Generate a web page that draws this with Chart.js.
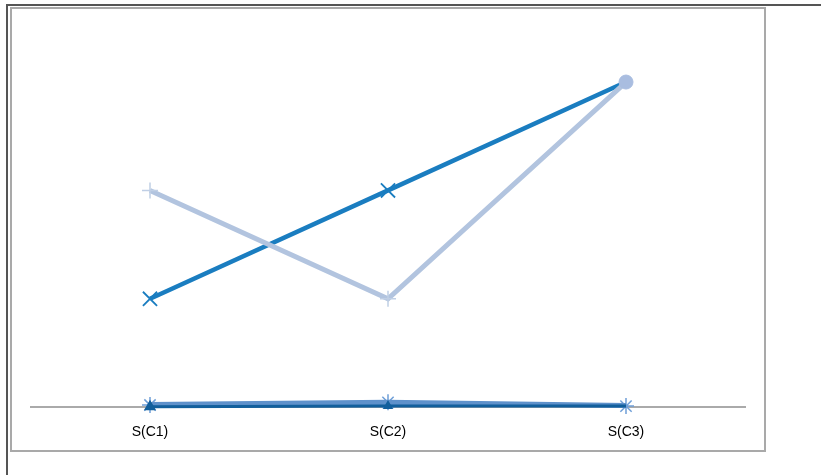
<!DOCTYPE html>
<html>
<head>
<meta charset="utf-8">
<script src="https://cdn.jsdelivr.net/npm/chart.js@4/dist/chart.umd.min.js"></script>
<style>
  html, body { margin: 0; padding: 0; background: #fff; }
  #wrap { position: relative; width: 821px; height: 475px; overflow: hidden; }
  #outerTop { position: absolute; left: 6px; top: 4px; width: 815px; height: 2px; background: #555; }
  #outerLeft { position: absolute; left: 6px; top: 4px; width: 2px; height: 471px; background: #555; }
  #frame { position: absolute; left: 10px; top: 7px; width: 752px; height: 441px; border: 2px solid #a9a9a9; }
  canvas { position: absolute; left: 0; top: 0; }
</style>
</head>
<body>
<div id="wrap">
  <div id="outerTop"></div>
  <div id="outerLeft"></div>
  <div id="frame"></div>
  <canvas id="c" width="821" height="475"></canvas>
</div>
<script>
const categories = ["S(C1)", "S(C2)", "S(C3)"];
const seriesA = [10, 20, 30];
const seriesB = [20, 10, 30];
const seriesLow1 = [0.05, 0.1, 0.1];
const seriesLow2 = [0.25, 0.45, 0.15];
const seriesLow3 = [0.2, 0.45, 0.1];

new Chart(document.getElementById('c'), {
  type: 'line',
  data: {
    labels: categories,
    datasets: [
      {
        data: seriesLow1,
        borderColor: '#125f9c',
        borderWidth: 3,
        pointStyle: ['triangle', 'triangle', false],
        pointRadius: [4, 3, 0],
        pointBackgroundColor: '#125f9c',
        pointBorderColor: '#125f9c',
        tension: 0,
        clip: false
      },
      {
        data: seriesLow2,
        borderColor: '#5e91cb',
        borderWidth: 5,
        pointRadius: 0,
        tension: 0,
        clip: false
      },
      {
        data: seriesLow3,
        borderColor: 'rgba(0,0,0,0)',
        borderWidth: 0,
        pointStyle: 'star',
        pointRadius: 8,
        pointBorderWidth: 1.5,
        pointBorderColor: '#6f9fd8',
        pointBackgroundColor: '#6f9fd8',
        showLine: false,
        clip: false
      },
      {
        data: seriesB,
        borderColor: '#b2c4df',
        borderWidth: 5,
        pointStyle: ['cross', 'cross', 'circle'],
        pointRadius: [8, 8, 7],
        pointBorderWidth: [1.5, 1.5, 1],
        pointBorderColor: ['#c0cfe5', '#c0cfe5', '#a9bde0'],
        pointBackgroundColor: '#a9bde0',
        tension: 0,
        clip: false
      },
      {
        data: seriesA,
        borderColor: '#1a7dc0',
        borderWidth: 4.5,
        pointStyle: ['crossRot', 'crossRot', false],
        pointRadius: [10, 10, 0],
        pointBorderWidth: 1.8,
        pointBorderColor: '#1a7dc0',
        pointBackgroundColor: '#1a7dc0',
        tension: 0,
        clip: false
      }
    ]
  },
  options: {
    responsive: false,
    animation: false,
    layout: { padding: { left: 31, right: 76, top: 17, bottom: 17 } },
    plugins: { legend: { display: false }, tooltip: { enabled: false } },
    scales: {
      x: {
        offset: true,
        grid: { display: false, drawTicks: false },
        border: { display: true, color: '#aaaaaa', width: 2 },
        ticks: {
          color: '#000',
          padding: 17,
          font: { family: 'Liberation Sans', size: 14 }
        }
      },
      y: {
        display: false,
        min: 0,
        max: 36
      }
    }
  }
});
</script>
</body>
</html>
